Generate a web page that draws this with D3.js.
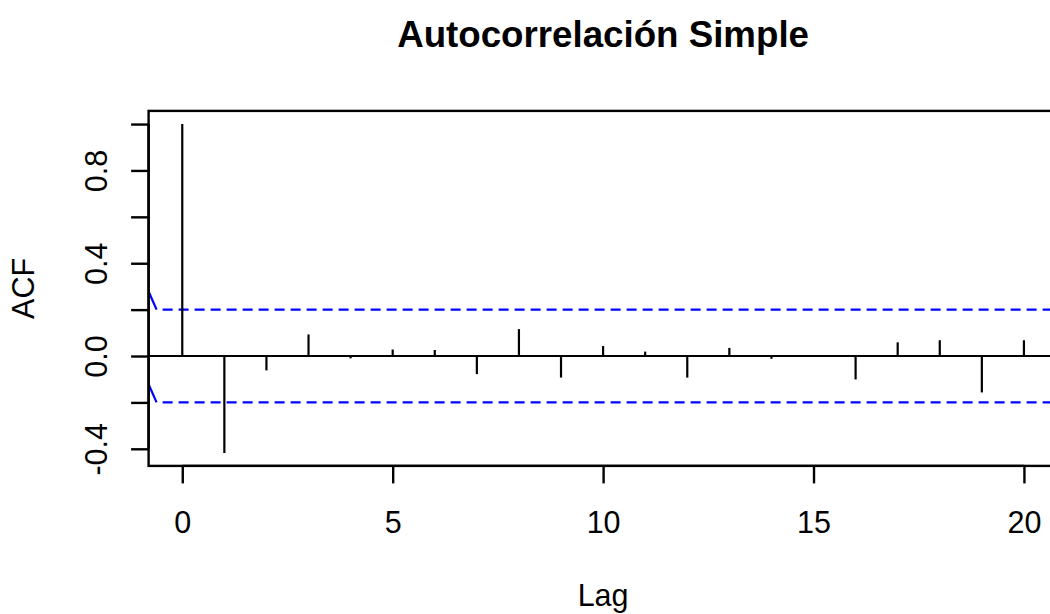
<!DOCTYPE html>
<html>
<head>
<meta charset="utf-8">
<script src="https://cdn.jsdelivr.net/npm/d3@7"></script>
<style>
  html, body { margin: 0; padding: 0; background: #fff; }
  svg { display: block; }
  text { font-family: "Liberation Sans", Arial, sans-serif; fill: #000; }
</style>
</head>
<body>
<svg id="chart" width="1050" height="614"></svg>
<script>
// ---- data ----
const lags = [0,1,2,3,4,5,6,7,8,9,10,11,12,13,14,15,16,17,18,19,20];
const acfValues = [1, -0.418, -0.062, 0.093, -0.010, 0.028, 0.026, -0.078, 0.116, -0.093,
                   0.043, 0.019, -0.093, 0.035, -0.012, 0.003, -0.101, 0.059, 0.068, -0.157, 0.068];
const ciBound = 0.2;
const xTicks = [0, 5, 10, 15, 20];
const yTicks = [-0.4, -0.2, 0.0, 0.2, 0.4, 0.6, 0.8, 1.0];
const yTickLabels = ["-0.4", "", "0.0", "", "0.4", "", "0.8", ""];
const titleText = "Autocorrelación Simple";
const xLabel = "Lag";
const yLabel = "ACF";

// ---- layout ----
const svg = d3.select("#chart");
const pLeft = 148.6, pRight = 1057.6, pTop = 110.9, pBottom = 465.9;
const xDomain = [-0.8, 20.8];
const yDomain = [-0.4737, 1.0567];
const x = d3.scaleLinear().domain(xDomain).range([pLeft, pRight]);
const y = d3.scaleLinear().domain(yDomain).range([pBottom, pTop]);
const fontSize = 30.5;

// clip for plot region
svg.append("clipPath").attr("id", "plotclip")
  .append("rect").attr("x", pLeft).attr("y", pTop).attr("width", pRight - pLeft).attr("height", pBottom - pTop);

const plot = svg.append("g").attr("clip-path", "url(#plotclip)");

// zero line
plot.append("line")
  .attr("x1", pLeft).attr("x2", pRight)
  .attr("y1", y(0)).attr("y2", y(0))
  .attr("stroke", "#000").attr("stroke-width", 2.2);

// confidence bounds
[ciBound, -ciBound].forEach(c => {
  const xs = xDomain[0] + 0.19;
  plot.append("line")
    .attr("x1", x(xDomain[0])).attr("y1", y(c + 0.078))
    .attr("x2", x(xs)).attr("y2", y(c))
    .attr("stroke", "#0000ff").attr("stroke-width", 2.2);
  plot.append("line")
    .attr("x1", x(xs)).attr("x2", pRight)
    .attr("y1", y(c)).attr("y2", y(c))
    .attr("stroke", "#0000ff").attr("stroke-width", 2.2)
    .attr("stroke-dasharray", "10,6").attr("stroke-dashoffset", 10);
});

// acf bars
plot.selectAll("line.bar").data(lags).enter().append("line")
  .attr("class", "bar")
  .attr("x1", d => x(d)).attr("x2", d => x(d))
  .attr("y1", y(0)).attr("y2", (d, i) => y(acfValues[i]))
  .attr("stroke", "#000").attr("stroke-width", 2.2);

// box
svg.append("rect")
  .attr("x", pLeft).attr("y", pTop).attr("width", pRight - pLeft).attr("height", pBottom - pTop)
  .attr("fill", "none").attr("stroke", "#000").attr("stroke-width", 2.4);

// x axis
const xAxis = d3.axisBottom(x).tickValues(xTicks).tickSize(17.5).tickPadding(0).tickFormat(d3.format("d"));
const gx = svg.append("g").attr("transform", `translate(0,${pBottom})`).call(xAxis);
gx.select(".domain").attr("d", `M${x(xTicks[0])},0H${x(xTicks[xTicks.length-1])}`).attr("stroke-width", 2.4);
gx.selectAll(".tick line").attr("stroke-width", 2.4);
gx.selectAll(".tick text")
  .attr("y", 533.5 - pBottom).attr("dy", 0)
  .style("font-family", '"Liberation Sans", Arial, sans-serif')
  .style("font-size", fontSize + "px").attr("fill", "#000");

// y axis
const yAxis = d3.axisLeft(y).tickValues(yTicks).tickSize(17.5).tickPadding(0)
  .tickFormat((d, i) => yTickLabels[i]);
const gy = svg.append("g").attr("transform", `translate(${pLeft},0)`).call(yAxis);
gy.select(".domain").attr("d", `M0,${y(yTicks[0])}V${y(yTicks[yTicks.length-1])}`).attr("stroke-width", 2.4);
gy.selectAll(".tick line").attr("stroke-width", 2.4);
gy.selectAll(".tick text")
  .attr("x", 0).attr("dy", 0)
  .attr("text-anchor", "middle")
  .attr("transform", `translate(${106.7 - pLeft},0) rotate(-90)`)
  .style("font-family", '"Liberation Sans", Arial, sans-serif')
  .style("font-size", fontSize + "px").attr("fill", "#000");

// title
svg.append("text")
  .attr("x", (pLeft + pRight) / 2).attr("y", 47)
  .attr("text-anchor", "middle")
  .style("font-size", "36.7px").style("font-weight", "bold")
  .text(titleText);

// axis labels
svg.append("text")
  .attr("x", (pLeft + pRight) / 2).attr("y", 606)
  .attr("text-anchor", "middle")
  .style("font-size", fontSize + "px")
  .text(xLabel);

svg.append("text")
  .attr("transform", `translate(34.3,${(pTop + pBottom) / 2}) rotate(-90)`)
  .attr("text-anchor", "middle")
  .style("font-size", fontSize + "px")
  .text(yLabel);
</script>
</body>
</html>
